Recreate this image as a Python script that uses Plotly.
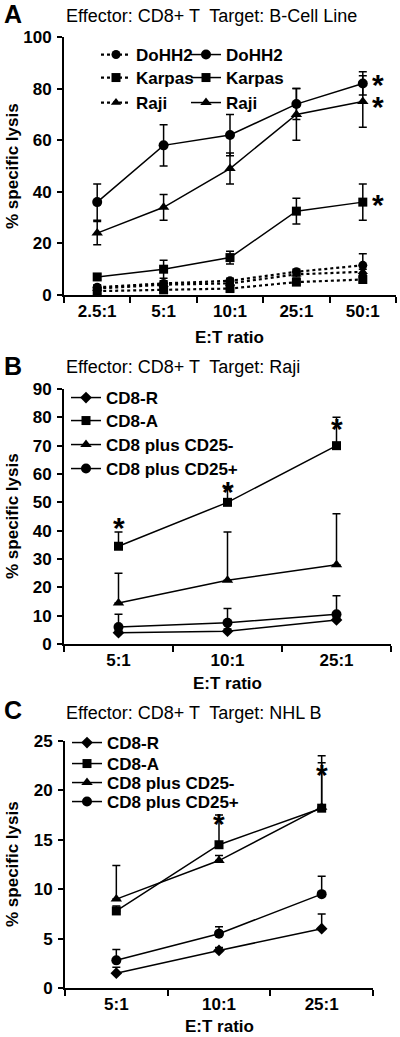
import plotly.graph_objects as go

# ---------------- data ----------------
cats_A = ["2.5:1", "5:1", "10:1", "25:1", "50:1"]
dohh2_solid = [36, 58, 62, 74, 82]
dohh2_solid_err = [7, 8, 8, 6, 4.5]
karpas_solid = [7, 10, 14.5, 32.5, 36]
karpas_solid_err = [1, 3.5, 2.5, 5, 7]
raji_solid = [24, 34, 49, 70, 75]
raji_solid_err = [4.5, 5, 6, 10, 10]
dohh2_dash = [3, 4.5, 5.5, 9, 11.5]
dohh2_dash_err = [1, 1, 1, 1, 4.5]
karpas_dash = [1.5, 2, 2.5, 5, 6]
karpas_dash_err = [1, 1, 1, 1, 1]
raji_dash = [2.5, 4, 4.5, 8, 9]
raji_dash_err = [1, 1, 1, 1, 1]
stars_A_y = [82.5, 74, 35.7]

cats_BC = ["5:1", "10:1", "25:1"]
b_cd8r = [4, 4.5, 8.5]
b_cd8r_err = [0.8, 0.8, 0.8]
b_cd8a = [34.5, 50, 70]
b_cd8a_err = [5, 5, 10]
b_cd25neg = [14.5, 22.5, 28]
b_cd25neg_err = [10.5, 17, 18]
b_cd25pos = [6, 7.5, 10.5]
b_cd25pos_err = [4.5, 5, 6.5]
stars_B_y = [42, 54.4, 76.6]

c_cd8r = [1.5, 3.8, 6.0]
c_cd8r_err = [0.6, 0.3, 1.5]
c_cd8a = [7.8, 14.5, 18.2]
c_cd8a_err = [0.5, 3, 5.3]
c_cd25neg = [9.0, 12.9, 18.3]
c_cd25neg_err = [3.4, 0.5, 4.5]
c_cd25pos = [2.8, 5.5, 9.5]
c_cd25pos_err = [1.1, 0.7, 1.8]
stars_C_y = [16.9, 21.8]

FONT = "Liberation Sans, Arial, sans-serif"
H = 1037
W = 400

fig = go.Figure()


def add(x, y, err, name, symbol, xa, ya, legend, dash="solid", size=9,
        symmetric=True):
    ey = dict(type="data", array=err, color="black", thickness=1.5, width=4,
              visible=True)
    if not symmetric:
        ey["symmetric"] = False
        ey["arrayminus"] = [0] * len(err)
    fig.add_trace(go.Scatter(
        x=x, y=y, name=name, mode="lines+markers",
        line=dict(color="black", width=1.5 if dash == "solid" else 2.2, dash=dash),
        marker=dict(symbol=symbol, size=size, color="black"),
        error_y=ey, xaxis=xa, yaxis=ya, legend=legend, cliponaxis=False))


# Panel A (one legend per entry so each row can be placed like the original)
add(cats_A, dohh2_dash, dohh2_dash_err, "DoHH2", "circle", "x", "y", "legend", dash="dot")
add(cats_A, karpas_dash, karpas_dash_err, "Karpas", "square", "x", "y", "legend2", dash="dot")
add(cats_A, raji_dash, raji_dash_err, "Raji", "triangle-up", "x", "y", "legend3", dash="dot")
add(cats_A, dohh2_solid, dohh2_solid_err, "DoHH2", "circle", "x", "y", "legend4", size=10)
add(cats_A, karpas_solid, karpas_solid_err, "Karpas", "square", "x", "y", "legend5")
add(cats_A, raji_solid, raji_solid_err, "Raji", "triangle-up", "x", "y", "legend6", size=10)

# Panel B
add(cats_BC, b_cd8r, b_cd8r_err, "CD8-R", "diamond", "x2", "y2", "legend7", symmetric=False)
add(cats_BC, b_cd8a, b_cd8a_err, "CD8-A", "square", "x2", "y2", "legend8", symmetric=False)
add(cats_BC, b_cd25neg, b_cd25neg_err, "CD8 plus CD25-", "triangle-up", "x2", "y2", "legend9", size=10, symmetric=False)
add(cats_BC, b_cd25pos, b_cd25pos_err, "CD8 plus CD25+", "circle", "x2", "y2", "legend10", size=10, symmetric=False)

# Panel C
add(cats_BC, c_cd8r, c_cd8r_err, "CD8-R", "diamond", "x3", "y3", "legend11", symmetric=False)
add(cats_BC, c_cd8a, c_cd8a_err, "CD8-A", "square", "x3", "y3", "legend12", symmetric=False)
add(cats_BC, c_cd25neg, c_cd25neg_err, "CD8 plus CD25-", "triangle-up", "x3", "y3", "legend13", size=10, symmetric=False)
add(cats_BC, c_cd25pos, c_cd25pos_err, "CD8 plus CD25+", "circle", "x3", "y3", "legend14", size=10, symmetric=False)


def py(p):
    return 1 - p / H


def px(p):
    return p / W


tickfont = dict(family=FONT, size=17, color="black", weight="bold")
xax = dict(type="category", showline=True, linecolor="black", linewidth=2,
           ticks="outside", tickwidth=2, ticklen=6, tickcolor="black",
           tickson="boundaries", showgrid=False, zeroline=False, tickfont=tickfont,
           fixedrange=True, automargin=False)
yax = dict(showline=True, linecolor="black", linewidth=2, ticks="outside",
           tickwidth=2, ticklen=5, tickcolor="black", showgrid=False,
           zeroline=False, tickfont=tickfont, fixedrange=True, automargin=False,
           ticklabelstandoff=2)

legfont = dict(family=FONT, size=17, color="black", weight="bold")
legbase = dict(font=legfont, bgcolor="rgba(0,0,0,0)", borderwidth=0,
               xanchor="left", yanchor="top", itemwidth=30, itemclick=False,
               itemdoubleclick=False)

# legend anchor positions (pixels): x of box left, y of box top
leg_pos = {
    "legend": (96, 37), "legend2": (96, 60), "legend3": (96, 85),
    "legend4": (186, 37), "legend5": (186, 60), "legend6": (186, 85),
    "legend7": (66, 380), "legend8": (66, 403), "legend9": (66, 427),
    "legend10": (66, 451),
    "legend11": (67, 725), "legend12": (67, 746), "legend13": (67, 765),
    "legend14": (67, 784),
}
legends = {k: dict(legbase, x=px(v[0]), y=py(v[1])) for k, v in leg_pos.items()}

fig.update_layout(
    width=W, height=H, margin=dict(l=0, r=0, t=0, b=0, autoexpand=False),
    paper_bgcolor="white", plot_bgcolor="white",
    xaxis=dict(xax, domain=[px(64), px(396)], range=[-0.5, 4.5], anchor="y"),
    yaxis=dict(yax, domain=[py(295), py(37)], range=[0, 100], dtick=20, anchor="x"),
    xaxis2=dict(xax, domain=[px(64), px(391)], range=[-0.5, 2.5], anchor="y2"),
    yaxis2=dict(yax, domain=[py(644), py(389)], range=[0, 90], dtick=10, anchor="x2"),
    xaxis3=dict(xax, domain=[px(65), px(373)], range=[-0.5, 2.5], anchor="y3"),
    yaxis3=dict(yax, domain=[py(988), py(741)], range=[0, 25], dtick=5, anchor="x3"),
    showlegend=True,
    **legends,
)

ann = []
# panel letters and titles
for letter, yc in [("A", 14), ("B", 366), ("C", 710)]:
    ann.append(dict(text=letter, x=px(2), y=py(yc), xref="paper", yref="paper",
                    xanchor="left", yanchor="middle", showarrow=False,
                    font=dict(family=FONT, size=25, color="black", weight="bold")))
for title, yc in [("Effector: CD8+ T  Target: B-Cell Line", 16),
                  ("Effector: CD8+ T  Target: Raji", 367),
                  ("Effector: CD8+ T  Target: NHL B", 713)]:
    ann.append(dict(text=title, x=px(64), y=py(yc), xref="paper", yref="paper",
                    xanchor="left", yanchor="middle", showarrow=False,
                    font=dict(family=FONT, size=18, color="black")))
# axis titles
for yc in [166, 516, 864]:
    ann.append(dict(text="% specific lysis", x=px(12), y=py(yc), xref="paper",
                    yref="paper", xanchor="center", yanchor="middle",
                    textangle=-90, showarrow=False,
                    font=dict(family=FONT, size=17, color="black", weight="bold")))
for xc, yc in [(230, 337), (228, 683), (219, 1026)]:
    ann.append(dict(text="E:T ratio", x=px(xc), y=py(yc), xref="paper",
                    yref="paper", xanchor="center", yanchor="middle",
                    showarrow=False,
                    font=dict(family=FONT, size=17, color="black", weight="bold")))

starfont = dict(family=FONT, size=30, color="black", weight="bold")
for yv in stars_A_y:
    ann.append(dict(text="*", x=4.23, y=yv, xref="x", yref="y", showarrow=False,
                    font=starfont, yshift=-2))
for i, yv in enumerate(stars_B_y):
    ann.append(dict(text="*", x=i, y=yv, xref="x2", yref="y2", showarrow=False,
                    font=starfont, yshift=-2))
for i, yv in enumerate(stars_C_y):
    ann.append(dict(text="*", x=i + 1, y=yv, xref="x3", yref="y3", showarrow=False,
                    font=starfont, yshift=-2))

fig.update_layout(annotations=ann)

fig.write_html("out.html", config={"displayModeBar": False},
               post_script="document.body.style.margin='0';")
